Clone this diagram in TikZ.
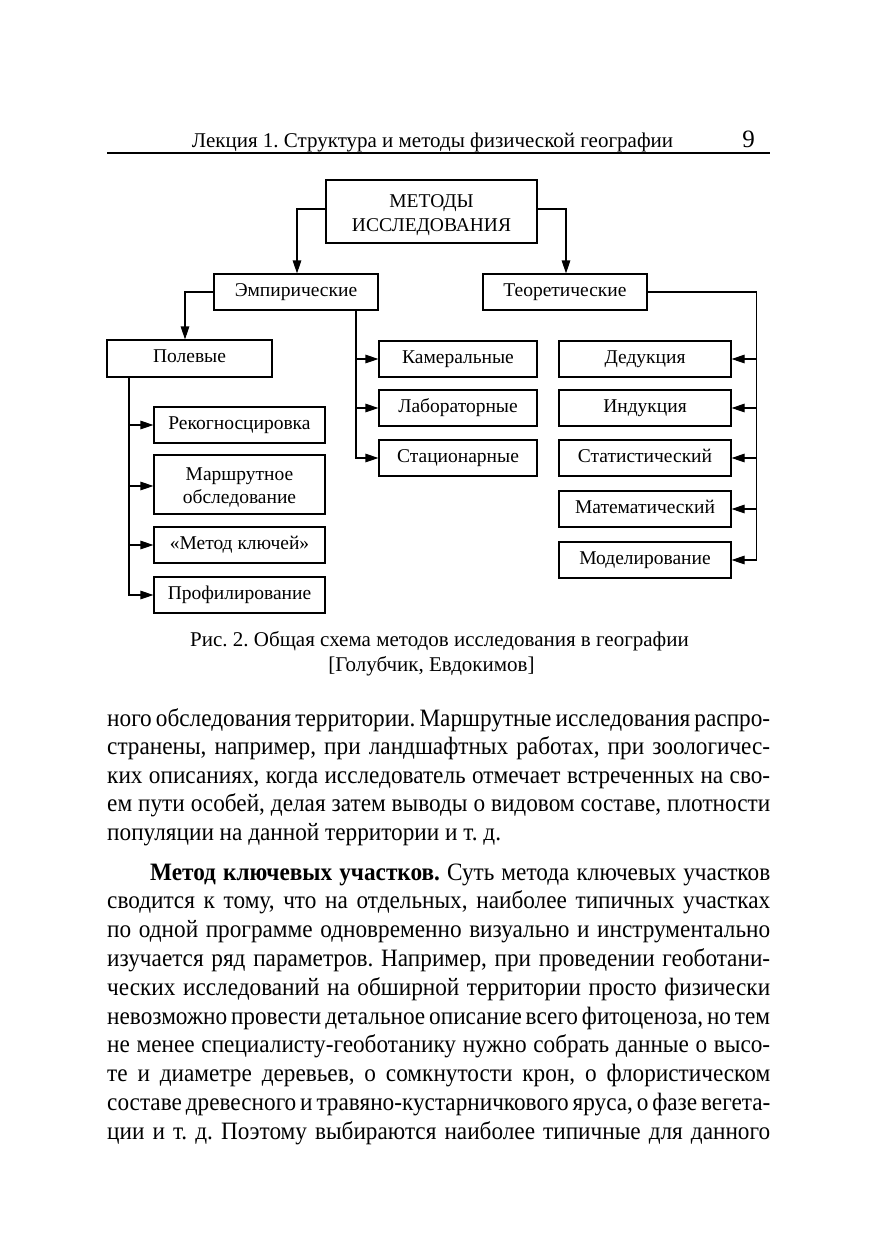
\documentclass[tikz,border=0pt]{standalone}
\usepackage{fontspec}
\setmainfont{Liberation Serif}
\newfontfamily\bodyfont[FakeStretch=0.93]{Liberation Serif}
\usetikzlibrary{arrows.meta}
\frenchspacing
\begin{document}
\frenchspacing
\begin{tikzpicture}[x=1pt,y=-1pt,
  bx/.style={draw, line width=1.1pt, inner sep=0pt, text height=13pt, text depth=5pt,
    font=\fontsize{19.5}{22.5}\selectfont, align=center},
  arr/.style={line width=1.1pt, -{Triangle[length=13pt,width=8.5pt]}},
  ln/.style={line width=1.1pt},
  hdrtext/.style={anchor=base, inner sep=0pt},
  bodyline/.style={anchor=base west, inner sep=0pt, font=\bodyfont\fontsize{25}{28.6}\selectfont\frenchspacing},
  captext/.style={anchor=base, inner sep=0pt, font=\fontsize{21}{24}\selectfont\frenchspacing}]
\useasboundingbox[fill=white] (0,0) rectangle (876,1240);

% header
\node[hdrtext, font=\fontsize{21}{26}\selectfont\frenchspacing] (hdr) at (432.5,147) {Лекция 1. Структура и методы физической географии};
\node[hdrtext, font=\fontsize{25}{28}\selectfont] (pg) at (748.5,147) {9};
\draw[line width=1.1pt] (107,153) -- (770,153);

% boxes
\node[bx, minimum width=211pt, minimum height=63pt, text height=45pt,
      font=\fontsize{19.5}{24.5}\selectfont] (top) at (431.5,211.5) {МЕТОДЫ\\ИССЛЕДОВАНИЯ};
\node[bx, minimum width=164pt, minimum height=36pt] (emp) at (296,292) {Эмпирические};
\node[bx, minimum width=164pt, minimum height=36pt] (teo) at (565,292) {Теоретические};
\node[bx, minimum width=165pt, minimum height=37pt] (pol) at (189.5,358.5) {Полевые};

\node[bx, minimum width=158pt, minimum height=36pt] (kam) at (458,359) {Камеральные};
\node[bx, minimum width=158pt, minimum height=36pt] (lab) at (458,408) {Лабораторные};
\node[bx, minimum width=158pt, minimum height=36pt] (sta) at (458,458) {Стационарные};

\node[bx, minimum width=172pt, minimum height=36pt] (ded) at (645,359) {Дедукция};
\node[bx, minimum width=172pt, minimum height=36pt] (ind) at (645,408) {Индукция};
\node[bx, minimum width=172pt, minimum height=36pt] (stat) at (645,458) {Статистический};
\node[bx, minimum width=172pt, minimum height=36pt] (mat) at (645,509) {Математический};
\node[bx, minimum width=172pt, minimum height=36pt] (mod) at (645,560) {Моделирование};

\node[bx, minimum width=171pt, minimum height=36pt] (rek) at (239.5,425) {Рекогносцировка};
\node[bx, minimum width=171pt, minimum height=59pt, text height=42pt] (mar) at (239.5,484.5) {Маршрутное\\обследование};
\node[bx, minimum width=171pt, minimum height=36pt] (key) at (239.5,545) {«Метод ключей»};
\node[bx, minimum width=171pt, minimum height=36pt] (prof) at (239.5,595) {Профилирование};

% connectors
\draw[arr] ([yshift=2.5pt]top.west) -| ([xshift=1pt]emp.north);
\draw[arr] ([yshift=2.5pt]top.east) -| ([xshift=1pt]teo.north);
\draw[arr] (emp.west) -| ([xshift=-4.5pt]pol.north);

\coordinate (pb) at ([xshift=-60.5pt]pol.south);
\draw[arr] (pb) |- (rek.west);
\draw[arr] (pb) |- ([yshift=-1.5pt]mar.west);
\draw[arr] (pb) |- (key.west);
\draw[arr] (pb) |- (prof.west);

\coordinate (eb) at ([xshift=60pt]emp.south);
\draw[arr] (eb) |- (kam.west);
\draw[arr] (eb) |- (lab.west);
\draw[arr] (eb) |- (sta.west);

\coordinate (tr) at ([xshift=109pt]teo.east);
\draw[ln] (teo.east) -- (tr);
\draw[arr] (tr) |- (ded.east);
\draw[arr] (tr) |- (ind.east);
\draw[arr] (tr) |- (stat.east);
\draw[arr] (tr) |- (mat.east);
\draw[arr] (tr) |- (mod.east);

% caption
\node[captext] (cap1) at (439.5,646) {Рис. 2. Общая схема методов исследования в географии};
\node[captext] (cap2) at (431.5,671) {[Голубчик, Евдокимов]};

% body text
\node[bodyline] (a1) at (107,726) {\makebox[663pt][s]{ного обследования территории. Маршрутные исследования распро-}};
\node[bodyline] (a2) at (107,754.5) {\makebox[663pt][s]{странены, например, при ландшафтных работах, при зоологичес-}};
\node[bodyline] (a3) at (107,783) {\makebox[663pt][s]{ких описаниях, когда исследователь отмечает встреченных на сво-}};
\node[bodyline] (a4) at (107,811.5) {\makebox[663pt][s]{ем пути особей, делая затем выводы о видовом составе, плотности}};
\node[bodyline] (a5) at (107,840) {популяции на данной территории и т.~д.};

\node[bodyline] (b1) at (150,880) {\makebox[620pt][s]{\bfseries Метод ключевых участков.\mdseries{} Суть метода ключевых участков}};
\node[bodyline] (b2) at (107,908.8) {\makebox[663pt][s]{сводится к тому, что на отдельных, наиболее типичных участках}};
\node[bodyline] (b3) at (107,937.6) {\makebox[663pt][s]{по одной программе одновременно визуально и инструментально}};
\node[bodyline] (b4) at (107,966.4) {\makebox[663pt][s]{изучается ряд параметров. Например, при проведении геоботани-}};
\node[bodyline] (b5) at (107,995.2) {\makebox[663pt][s]{ческих исследований на обширной территории просто физически}};
\node[bodyline] (b6) at (107,1024) {\makebox[663pt][s]{невозможно провести детальное описание всего фитоценоза, но тем}};
\node[bodyline] (b7) at (107,1052.8) {\makebox[663pt][s]{не менее специалисту-геоботанику нужно собрать данные о высо-}};
\node[bodyline] (b8) at (107,1081.6) {\makebox[663pt][s]{те и диаметре деревьев, о сомкнутости крон, о флористическом}};
\node[bodyline] (b9) at (107,1110.4) {\makebox[663pt][s]{составе древесного и травяно-кустарничкового яруса, о фазе вегета-}};
\node[bodyline] (b10) at (107,1139.2) {\makebox[663pt][s]{ции и т.~д. Поэтому выбираются наиболее типичные для данного}};
\end{tikzpicture}
\end{document}
